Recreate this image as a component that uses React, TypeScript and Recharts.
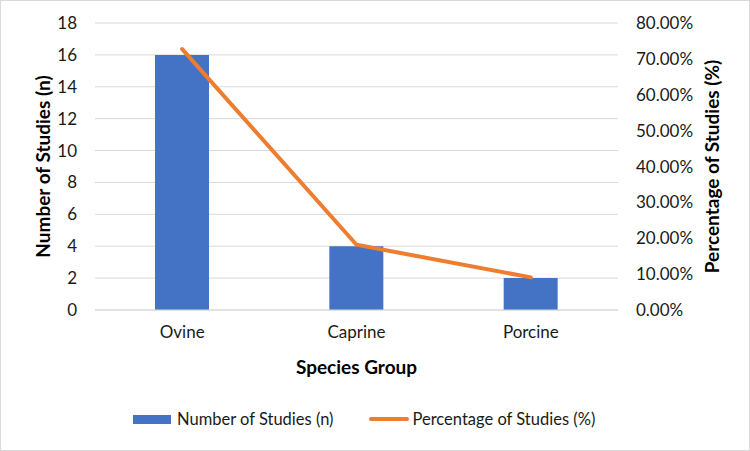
import React from "react";
import {
  ComposedChart,
  Bar,
  Line,
  XAxis,
  YAxis,
  CartesianGrid,
  Legend,
} from "recharts";

const species = ["Ovine", "Caprine", "Porcine"];
const studyCounts = [16, 4, 2];
const studyShares = [0.7273, 0.1818, 0.0909];
const countTicks = [0, 2, 4, 6, 8, 10, 12, 14, 16, 18];
const shareTicks = [0, 0.1, 0.2, 0.3, 0.4, 0.5, 0.6, 0.7, 0.8];

const COUNT_NAME = "Number of Studies (n)";
const SHARE_NAME = "Percentage of Studies (%)";

const rows = species.map((s, i) => ({
  species: s,
  count: studyCounts[i],
  share: studyShares[i],
}));

const FONT = "Lato, 'Open Sans', sans-serif";
const BLUE = "#4472C4";
const ORANGE = "#ED7D31";
const GRID = "#d9d9d9";
const TEXT = "#1a1a1a";

const tickStyle = { fontSize: 17, fill: TEXT, fontFamily: FONT };
const TITLE_SIZE = 19;

const LeftTitle = (props: any) => {
  const { viewBox } = props;
  const x = viewBox.x + 42;
  const y = viewBox.y + viewBox.height / 2;
  return (
    <text
      x={x}
      y={y}
      transform={`rotate(-90 ${x} ${y})`}
      textAnchor="middle"
      dominantBaseline="central"
      fontFamily={FONT}
      fontSize={TITLE_SIZE}
      fontWeight={700}
      fill="#000"
    >
      {COUNT_NAME}
    </text>
  );
};

const RightTitle = (props: any) => {
  const { viewBox } = props;
  const x = viewBox.x + 93;
  const y = viewBox.y + viewBox.height / 2;
  return (
    <text
      x={x}
      y={y}
      transform={`rotate(-90 ${x} ${y})`}
      textAnchor="middle"
      dominantBaseline="central"
      fontFamily={FONT}
      fontSize={TITLE_SIZE}
      fontWeight={700}
      fill="#000"
    >
      {SHARE_NAME}
    </text>
  );
};

const BottomTitle = (props: any) => {
  const { viewBox } = props;
  const x = viewBox.x + viewBox.width / 2;
  const y = viewBox.y + 56;
  return (
    <text
      x={x}
      y={y}
      textAnchor="middle"
      dominantBaseline="central"
      fontFamily={FONT}
      fontSize={TITLE_SIZE}
      fontWeight={700}
      fill="#000"
    >
      Species Group
    </text>
  );
};

const LegendContent = () => (
  <div
    style={{
      display: "flex",
      alignItems: "center",
      fontFamily: FONT,
      fontSize: 16.5,
      color: TEXT,
      paddingLeft: 133,
      whiteSpace: "nowrap",
    }}
  >
    <span
      style={{ display: "inline-block", width: 38, height: 9, background: BLUE }}
    />
    <span style={{ marginLeft: 6 }}>{COUNT_NAME}</span>
    <span
      style={{
        display: "inline-block",
        width: 40,
        height: 4,
        borderRadius: 2,
        background: ORANGE,
        marginLeft: 35,
      }}
    />
    <span style={{ marginLeft: 4 }}>{SHARE_NAME}</span>
  </div>
);

export default function App() {
  return (
    <div
      style={{
        position: "fixed",
        top: 0,
        left: 0,
        width: 750,
        height: 451,
        background: "#fff",
      }}
    >
      <ComposedChart
        width={750}
        height={451}
        data={rows}
        margin={{ top: 23, right: 0, bottom: 71, left: 0 }}
      >
        <CartesianGrid
          yAxisId="count"
          vertical={false}
          stroke={GRID}
          strokeWidth={1}
        />
        <XAxis
          dataKey="species"
          height={70}
          tickSize={0}
          tickMargin={16}
          axisLine={{ stroke: GRID }}
          tick={tickStyle}
          label={<BottomTitle />}
        />
        <YAxis
          yAxisId="count"
          orientation="left"
          width={95}
          domain={[0, 18]}
          ticks={countTicks}
          interval={0}
          tickSize={0}
          tickMargin={18}
          axisLine={false}
          tick={tickStyle}
          label={<LeftTitle />}
        />
        <YAxis
          yAxisId="share"
          orientation="right"
          width={132}
          domain={[0, 0.8]}
          ticks={shareTicks}
          interval={0}
          tickSize={0}
          tickMargin={18}
          axisLine={false}
          tick={{ ...tickStyle, textAnchor: "start" }}
          tickFormatter={(v: number) => `${(v * 100).toFixed(2)}%`}
          label={<RightTitle />}
        />
        <Bar
          yAxisId="count"
          dataKey="count"
          name={COUNT_NAME}
          fill={BLUE}
          barSize={54}
          isAnimationActive={false}
        />
        <Line
          yAxisId="share"
          dataKey="share"
          name={SHARE_NAME}
          type="linear"
          stroke={ORANGE}
          strokeWidth={4}
          strokeLinecap="round"
          dot={false}
          activeDot={false}
          isAnimationActive={false}
        />
        <Legend
          layout="horizontal"
          verticalAlign="middle"
          content={<LegendContent />}
          wrapperStyle={{ top: 409, left: 0, width: 750 }}
        />
      </ComposedChart>
      <div
        style={{
          position: "absolute",
          inset: 0,
          border: `1px solid ${GRID}`,
          pointerEvents: "none",
        }}
      />
    </div>
  );
}
